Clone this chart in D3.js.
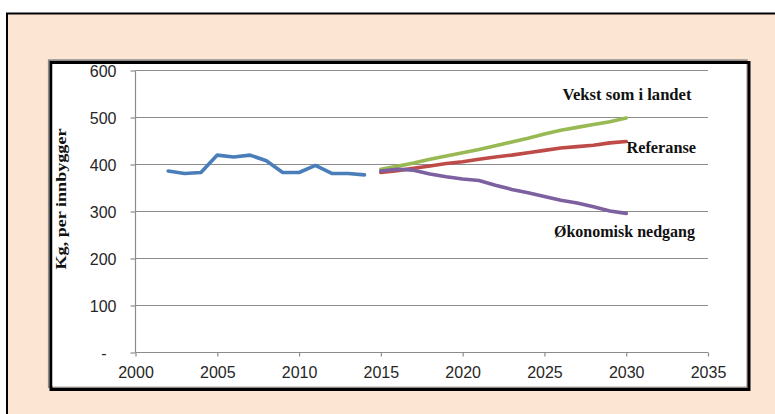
<!DOCTYPE html>
<html>
<head>
<meta charset="utf-8">
<script src="https://cdn.jsdelivr.net/npm/d3@7"></script>
<style>
  html, body { margin: 0; padding: 0; background: #ffffff; }
  svg { display: block; }
</style>
</head>
<body>
<svg id="chart" width="775" height="414"></svg>
<script>
// ---- data ----
const histYears = [2002, 2003, 2004, 2005, 2006, 2007, 2008, 2009, 2010, 2011, 2012, 2013, 2014];
const histValues = [386, 381, 383, 420, 416, 420, 408, 383, 383, 398, 381, 381, 378];

const projYears = [2015, 2016, 2017, 2018, 2019, 2020, 2021, 2022, 2023, 2024, 2025, 2026, 2027, 2028, 2029, 2030];
const referanse = [383, 387, 392, 397, 402, 406, 411, 416, 420, 425, 430, 435, 438, 441, 446, 449];
const vekst     = [390, 396, 403, 411, 418, 425, 432, 440, 448, 456, 465, 473, 479, 485, 491, 499];
const nedgang   = [386, 390, 388, 380, 374, 369, 366, 356, 347, 340, 332, 324, 318, 310, 301, 296];

const xTicks = [2000, 2005, 2010, 2015, 2020, 2025, 2030, 2035];
const yTicks = [0, 100, 200, 300, 400, 500, 600];
const yTickLabels = ["-", "100", "200", "300", "400", "500", "600"];

const yTitle = "Kg, per innbygger";
const labelVekst = "Vekst som i landet";
const labelRef = "Referanse";
const labelNed = "Økonomisk nedgang";

// ---- drawing ----
const svg = d3.select("#chart");

// outer peach box
svg.append("rect")
  .attr("x", 7).attr("y", 13.5).attr("width", 820).attr("height", 440)
  .attr("fill", "#fde5d4").attr("stroke", "#000").attr("stroke-width", 2);

// inner chart box: gray shadow line + black border
svg.append("rect")
  .attr("x", 48.8).attr("y", 60.2).attr("width", 698).attr("height", 327)
  .attr("fill", "#ffffff").attr("stroke", "#8a8a8a").attr("stroke-width", 1.8);
svg.append("rect")
  .attr("x", 51).attr("y", 62.5).attr("width", 698).attr("height", 327)
  .attr("fill", "none").attr("stroke", "#000").attr("stroke-width", 3);
svg.append("rect")
  .attr("x", 52.5).attr("y", 64).attr("width", 694).attr("height", 322.5)
  .attr("fill", "#ffffff");

const x = d3.scaleLinear().domain([2000, 2035]).range([135.5, 708]);
const y = d3.scaleLinear().domain([0, 600]).range([352.5, 70.5]);

const gridColor = "#8c8c8c";

// gridlines
svg.append("g").selectAll("line").data(yTicks.filter(d => d > 0)).join("line")
  .attr("x1", x(2000)).attr("x2", x(2035))
  .attr("y1", d => y(d)).attr("y2", d => y(d))
  .attr("stroke", gridColor).attr("stroke-width", 1.2);

// y axis
const yAxis = svg.append("g")
  .attr("transform", `translate(${x(2000)},0)`)
  .call(d3.axisLeft(y).tickValues(yTicks).tickSize(5).tickPadding(14)
    .tickFormat((d, i) => yTickLabels[i]));
yAxis.select(".domain").attr("stroke", gridColor).attr("stroke-width", 1.2)
  .attr("d", `M0,${y(600)}V${y(0)}`);
yAxis.selectAll(".tick line").attr("stroke", gridColor).attr("stroke-width", 1.2);
yAxis.selectAll(".tick text")
  .attr("font-family", "'Liberation Sans', Arial, sans-serif")
  .attr("font-size", 16).attr("fill", "#262626")
  .attr("dy", "0.36em");
yAxis.selectAll(".tick text").filter(d => d === 0).attr("dx", -10);

// x axis
const xAxis = svg.append("g")
  .attr("transform", `translate(0,${y(0)})`)
  .call(d3.axisBottom(x).tickValues(xTicks).tickSize(4).tickPadding(10)
    .tickFormat(d3.format("d")));
xAxis.select(".domain").attr("stroke", gridColor).attr("stroke-width", 1.2)
  .attr("d", `M${x(2000)},0H${x(2035)}`);
xAxis.selectAll(".tick line").attr("stroke", gridColor).attr("stroke-width", 1.2);
xAxis.selectAll(".tick text")
  .attr("font-family", "'Liberation Sans', Arial, sans-serif")
  .attr("font-size", 16).attr("fill", "#262626");

// lines
const line = d3.line().x(d => x(d[0])).y(d => y(d[1])).curve(d3.curveLinear);
function drawSeries(years, vals, color) {
  svg.append("path")
    .datum(years.map((yr, i) => [yr, vals[i]]))
    .attr("d", line)
    .attr("fill", "none")
    .attr("stroke", color)
    .attr("stroke-width", 3.6)
    .attr("stroke-linejoin", "round")
    .attr("stroke-linecap", "round");
}
drawSeries(histYears, histValues, "#4a7ebb");
drawSeries(projYears, vekst, "#98b954");
drawSeries(projYears, referanse, "#be4b48");
drawSeries(projYears, nedgang, "#7d60a0");

// y title
svg.append("text")
  .attr("transform", "translate(66,199) rotate(-90)")
  .attr("text-anchor", "middle")
  .attr("font-family", "'Liberation Serif', 'Times New Roman', serif")
  .attr("font-weight", "bold").attr("font-size", 15)
  .attr("textLength", 141).attr("lengthAdjust", "spacingAndGlyphs")
  .attr("fill", "#111")
  .text(yTitle);

// annotations
function ann(txt, xs, base, len) {
  svg.append("text")
    .attr("x", xs).attr("y", base)
    .attr("font-family", "'Liberation Serif', 'Times New Roman', serif")
    .attr("font-weight", "bold").attr("font-size", 16)
    .attr("textLength", len).attr("lengthAdjust", "spacingAndGlyphs")
    .attr("fill", "#111")
    .text(txt);
}
ann(labelVekst, 562.5, 99.5, 129);
ann(labelRef, 626.5, 152.7, 69.5);
ann(labelNed, 554, 237, 141);
</script>
</body>
</html>
